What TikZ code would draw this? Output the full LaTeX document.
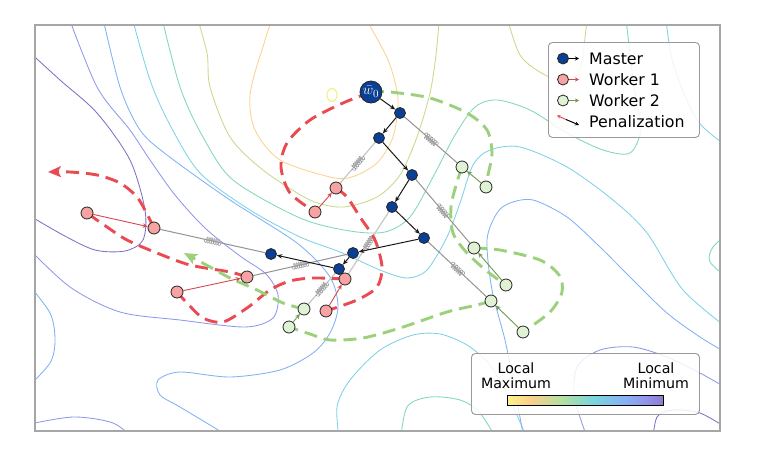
\documentclass[tikz,border=0pt]{standalone}
\usepackage{fontspec}
\setmainfont{DejaVu Sans}
\usetikzlibrary{arrows.meta,calc,decorations.pathmorphing}
\pgfdeclarelayer{contour}
\pgfdeclarelayer{paths}
\pgfsetlayers{contour,paths,main}
\definecolor{mblue}{HTML}{0B3F93}
\definecolor{wonefill}{HTML}{F7A2A3}
\definecolor{wtwofill}{HTML}{E0F2D4}
\definecolor{redpath}{HTML}{EA4A52}
\definecolor{greenpath}{HTML}{9BD17A}
\definecolor{redarrow}{HTML}{D64A4F}
\definecolor{greenarrow}{HTML}{6E9C4F}
\definecolor{cY}{HTML}{F3EE5C}
\definecolor{cO}{HTML}{FBD38E}
\definecolor{cYG}{HTML}{C9D98A}
\definecolor{cT}{HTML}{80D9B4}
\definecolor{cC}{HTML}{7DD3E6}
\definecolor{cB}{HTML}{80B2F5}
\definecolor{cV}{HTML}{8F98EE}
\definecolor{cP}{HTML}{7F72C6}
\definecolor{cbA}{HTML}{FBF38A}
\definecolor{cbB}{HTML}{F9CF8B}
\definecolor{cbC}{HTML}{B5DFA0}
\definecolor{cbD}{HTML}{7AD5DC}
\definecolor{cbE}{HTML}{86B3F3}
\definecolor{cbF}{HTML}{9495EE}
\definecolor{cbG}{HTML}{8A7EC9}
\pgfdeclarehorizontalshading{cbar}{100bp}{color(0bp)=(cbA); color(25bp)=(cbA); color(32.5bp)=(cbB); color(42.5bp)=(cbC); color(52.5bp)=(cbD); color(62.5bp)=(cbE); color(69bp)=(cbF); color(75bp)=(cbG); color(100bp)=(cbG)}
\newcommand\springlink[3][pen]{%
  \draw[#1] (#2) -- (#3);
  \path ($(#2)!0.5!(#3)$) coordinate (spm);
  \draw[springc] ($(spm)!9pt!(#2)$) -- ($(spm)!9pt!(#3)$);
}
\begin{document}
\begin{tikzpicture}[x=1pt,y=-1pt,
  mnode/.style={circle,fill=mblue,draw=black!85,line width=0.8pt,minimum size=11pt,inner sep=0pt},
  wone/.style={circle,fill=wonefill,draw=black!85,line width=0.8pt,minimum size=12pt,inner sep=0pt},
  wtwo/.style={circle,fill=wtwofill,draw=black!85,line width=0.8pt,minimum size=12pt,inner sep=0pt},
  marr/.style={draw=black!90,line width=1pt,-{Stealth[length=5.5pt,width=4.5pt]}},
  rarr/.style={draw=redarrow,line width=0.9pt,-{Stealth[length=5pt,width=4.5pt]}},
  garr/.style={draw=greenarrow,line width=0.9pt,-{Stealth[length=5pt,width=4.5pt]}},
  rtraj/.style={draw=redpath,line width=2.9pt,dash pattern=on 13pt off 7pt},
  gtraj/.style={draw=greenpath,line width=2.9pt,dash pattern=on 13pt off 7pt},
  pen/.style={draw=black!42,line width=1pt},
  penlight/.style={draw=black!22,line width=1.2pt},
  springc/.style={draw=black!38,line width=0.6pt,decorate,decoration={coil,aspect=0.4,segment length=2.3pt,amplitude=3pt}},
  ctr/.style={line width=0.85pt},
  legtext/.style={font=\fontsize{15.8}{18}\selectfont,anchor=base west,inner sep=0pt},
  cbtext/.style={font=\fontsize{14.2}{16}\selectfont,anchor=base,inner sep=0pt}
]
\useasboundingbox (0,0) rectangle (763,464);

% ---------------- contour lines ----------------
\begin{pgfonlayer}{contour}
\fill[white] (35,25) rectangle (720,431);
\begin{scope}
\clip (35,25) rectangle (720,431);
\draw[ctr,cY] (332,95) ellipse (5 and 6.5);
\draw[ctr,cO] plot[smooth cycle] coordinates {(277,15) (262,50) (250,95) (255,130) (280,160) (330,177) (352,177) (377,163) (393,137) (398,100) (390,65) (375,35) (360,15) (320,5)};
\draw[ctr,cYG] plot[smooth] coordinates {(195,10) (207,53) (210,87) (230,137) (263,170) (310,200) (343,207) (377,197) (400,175) (417,137) (430,93) (436,55) (440,10)};
\draw[ctr,cYG] plot[smooth] coordinates {(505,10) (520,55) (545,75) (565,80) (580,70) (588,10)};
\draw[ctr,cT] plot[smooth] coordinates {(160,10) (180,87) (203,137) (233,180) (300,218) (350,231) (385,232) (410,217) (433,177) (455,135) (475,107) (497,100) (530,110) (567,133) (603,150) (630,153) (641,128) (634,87) (625,10)};
\draw[ctr,cT] plot[smooth] coordinates {(730,232) (713,247) (710,262) (730,280)};
\draw[ctr,cT] plot[smooth] coordinates {(400,445) (407,407) (430,397) (460,400) (480,413) (500,445)};
\draw[ctr,cC] plot[smooth] coordinates {(130,10) (150,80) (170,125) (200,173) (250,210) (300,237) (340,252) (380,270) (407,278) (427,270) (447,237) (460,203) (473,165) (490,150) (520,147) (567,167) (613,200) (647,233) (683,290) (730,330)};
\draw[ctr,cC] plot[smooth] coordinates {(665,10) (673,63) (697,120) (730,148)};
\draw[ctr,cC] plot[smooth] coordinates {(340,445) (337,407) (350,380) (380,350) (413,335) (440,334) (467,345) (490,365) (510,400) (530,445)};
\draw[ctr,cB] plot[smooth] coordinates {(101,10) (120,87) (140,130) (167,155) (230,200) (297,243) (330,277) (338,307) (330,333) (313,353) (280,370) (230,377) (180,372) (158,380) (160,395) (180,407) (235,440)};
\draw[ctr,cB] plot[smooth] coordinates {(525,445) (515,390) (505,340) (492,290) (487,240) (497,213) (510,203) (533,200) (567,217) (600,247) (633,280) (667,313) (700,337) (730,355)};
\draw[ctr,cB] plot[smooth] coordinates {(25,280) (50,313) (55,340) (50,363) (25,390)};
\draw[ctr,cV] plot[smooth] coordinates {(66,10) (97,87) (130,130) (150,160) (175,195) (205,228) (240,256) (266,274) (278,295) (273,318) (245,327) (180,320) (120,312) (70,287) (25,245)};
\draw[ctr,cV] plot[smooth] coordinates {(25,425) (73,417) (113,423) (135,440)};
\draw[ctr,cV] plot[smooth] coordinates {(590,445) (575,400) (577,367) (600,350) (633,347) (667,357) (700,373) (730,390)};
\draw[ctr,cP] plot[smooth] coordinates {(25,48) (60,80) (97,113) (130,160) (145,210) (143,240) (125,251) (95,250) (63,235) (25,213)};
\draw[ctr,cP] plot[smooth] coordinates {(652,445) (657,417) (673,410) (700,413) (730,430)};
\end{scope}
\draw[black!35,line width=1.3pt] (35,25) rectangle (720,431);
\end{pgfonlayer}

% ---------------- nodes ----------------
\node[mnode,minimum size=22pt,text=white,font=\fontsize{15}{15}\selectfont] (w0) at (371,92) {$\bar{w}_0$};
\node[mnode] (m1) at (400,113) {};
\node[mnode] (m2) at (379,138) {};
\node[mnode] (m3) at (412,175) {};
\node[mnode] (m4) at (392,207) {};
\node[mnode] (m5) at (424,238) {};
\node[mnode] (m6) at (353,253) {};
\node[mnode] (m7) at (339,269) {};
\node[mnode] (m8) at (271,254) {};

\node[wone] (w1a) at (336,188) {};
\node[wone] (w1b) at (315,212) {};
\node[wone] (w1c) at (87,213) {};
\node[wone] (w1d) at (154,228) {};
\node[wone] (w1e) at (247,277) {};
\node[wone] (w1f) at (177,292) {};
\node[wone] (w1g) at (345,279) {};
\node[wone] (w1h) at (326,311) {};

\node[wtwo] (w2a) at (462,167) {};
\node[wtwo] (w2b) at (486,187) {};
\node[wtwo] (w2c) at (474,248) {};
\node[wtwo] (w2d) at (506,285) {};
\node[wtwo] (w2e) at (491,301) {};
\node[wtwo] (w2f) at (523,332) {};
\node[wtwo] (w2g) at (304,309) {};
\node[wtwo] (w2h) at (289,327) {};

\coordinate (rend) at (48,172);
\coordinate (gend) at (184,253);

% ---------------- trajectories & springs ----------------
\begin{pgfonlayer}{paths}
\springlink{m1}{w2a}
\springlink[penlight]{m2}{w1a}
\springlink{m3}{w2c}
\springlink[penlight]{m4}{w1g}
\springlink{m5}{w2e}
\springlink{m6}{w1e}
\springlink[penlight]{m7}{w2g}
\springlink{m8}{w1d}

\draw[rtraj] plot[smooth] coordinates {(w0.center) (343,103) (310,120) (287,143) (281,167) (290,193) (w1b.center)};
\draw[rtraj] plot[smooth] coordinates {(w1a.center) (347,197) (360,217) (375,240) (382,267) (377,287) (357,300) (w1h.center)};
\draw[rtraj] plot[smooth] coordinates {(w1g.center) (313,278) (290,281) (270,290) (247,308) (223,322) (203,318) (187,303) (w1f.center)};
\draw[rtraj] plot[smooth] coordinates {(w1e.center) (230,272) (190,265) (157,253) (127,240) (107,227) (w1c.center)};
\draw[rtraj,-{Stealth[length=13pt,width=11pt,inset=3pt]}] plot[smooth] coordinates {(w1d.center) (147,214) (137,197) (120,183) (97,175) (70,172) (rend)};

\draw[gtraj] plot[smooth] coordinates {(w0.center) (390,92) (430,98) (467,113) (487,130) (492,153) (488,175) (w2b.center)};
\draw[gtraj] plot[smooth] coordinates {(w2a.center) (457,182) (451,207) (453,233) (467,253) (488,272) (w2d.center)};
\draw[gtraj] plot[smooth] coordinates {(w2c.center) (500,250) (540,260) (559,275) (562,292) (550,312) (w2f.center)};
\draw[gtraj] plot[smooth] coordinates {(w2e.center) (477,305) (447,312) (400,328) (363,338) (330,340) (310,334) (w2h.center)};
\draw[gtraj,-{Stealth[length=13pt,width=11pt,inset=3pt]}] plot[smooth] coordinates {(w2g.center) (283,303) (257,290) (230,278) (210,267) (gend)};
\end{pgfonlayer}

% ---------------- arrows ----------------
\draw[marr] (w0) -- (m1);
\draw[marr] (m1) -- (m2);
\draw[marr] (m2) -- (m3);
\draw[marr] (m3) -- (m4);
\draw[marr] (m4) -- (m5);
\draw[marr] (m5) -- (m6);
\draw[marr] (m6) -- (m7);
\draw[marr] (m7) -- (m8);

\draw[rarr] (w1b) -- (w1a);
\draw[rarr] (w1h) -- (w1g);
\draw[rarr] (w1f) -- (w1e);
\draw[rarr] (w1c) -- (w1d);
\draw[garr] (w2b) -- (w2a);
\draw[garr] (w2d) -- (w2c);
\draw[garr] (w2f) -- (w2e);
\draw[garr] (w2h) -- (w2g);

% ---------------- legend ----------------
\node[draw=black!40,line width=0.9pt,rounded corners=4pt,fill=white,fill opacity=0.85,minimum width=151pt,minimum height=95pt,anchor=north west,inner sep=0pt] (legbox) at (548,42) {};
\node[mnode] (lm) at (563,58.5) {};
\node[wone,minimum size=11pt] (lw1) at (563,79.5) {};
\node[wtwo,minimum size=11pt] (lw2) at (563,100.5) {};
\coordinate (lme) at (579,58.5);
\coordinate (lw1e) at (579,79.5);
\coordinate (lw2e) at (579,100.5);
\draw[black,line width=0.9pt,-{Stealth[length=4pt,width=4pt]}] (lm) -- (lme);
\draw[redarrow,line width=0.9pt,-{Stealth[length=4pt,width=4pt]}] (lw1) -- (lw1e);
\draw[greenarrow,line width=0.9pt,-{Stealth[length=4pt,width=4pt]}] (lw2) -- (lw2e);
\coordinate (lpa) at (557,115.5);
\coordinate (lpm) at (566,119.5);
\coordinate (lpb) at (579,125);
\draw[redpath,line width=1pt,{Stealth[length=3.5pt,width=3.5pt]}-] (lpa) -- (lpm);
\draw[black,line width=1pt,-{Stealth[length=4pt,width=4pt]}] (lpm) -- (lpb);
\node[legtext] (tm) at (589,64.5) {Master};
\node[legtext] (tw1) at (589,85.5) {Worker 1};
\node[legtext] (tw2) at (589,106.5) {Worker 2};
\node[legtext] (tp) at (589,127) {Penalization};

% ---------------- colour bar ----------------
\node[draw=black!40,line width=0.9pt,rounded corners=4pt,fill=white,fill opacity=0.85,minimum width=228pt,minimum height=61pt,anchor=north west,inner sep=0pt] (cbbox) at (471,353) {};
\shade[shading=cbar,draw=black,line width=0.9pt] (507,395) rectangle (663,405);
\node[cbtext] (tl1) at (516,373.3) {Local};
\node[cbtext] (tl2) at (516,388.3) {Maximum};
\node[cbtext] (tr1) at (656,373.3) {Local};
\node[cbtext] (tr2) at (656,388.3) {Minimum};
\end{tikzpicture}
\end{document}
